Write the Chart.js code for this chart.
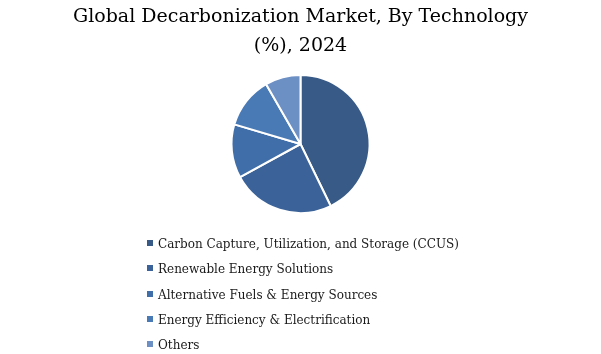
<!DOCTYPE html>
<html>
<head>
<meta charset="utf-8">
<script src="https://cdn.jsdelivr.net/npm/chart.js@4"></script>
<style>
  body { margin: 0; background: #fff; }
  #wrap { position: relative; width: 601px; height: 354px; }
  #legend { position: absolute; left: 147px; top: 234px; font-family: Georgia, 'DejaVu Serif', serif; font-size: 12px; color: #1a1a1a; }
  #legend div { height: 25.3px; line-height: 20px; white-space: nowrap; }
  #legend span { display: inline-block; width: 6px; height: 6px; margin-right: 5px; vertical-align: 2px; }
</style>
</head>
<body>
<div id="wrap">
  <canvas id="myChart" width="601" height="354"></canvas>
  <div id="legend"></div>
</div>
<script>
var categories = ['Carbon Capture, Utilization, and Storage (CCUS)', 'Renewable Energy Solutions', 'Alternative Fuels & Energy Sources', 'Energy Efficiency & Electrification', 'Others'];
var shares = [42.8, 24.2, 12.6, 12.1, 8.3];
var colors = ['#375a86', '#3b6399', '#3f6ea8', '#4a7ab6', '#6c8fc4'];

document.addEventListener('DOMContentLoaded', function () {
    var ctx = document.getElementById('myChart').getContext('2d');
    var myChart = new Chart(ctx, {
        type: 'pie',
        data: {
            labels: categories,
            datasets: [{
                data: shares,
                backgroundColor: colors,
                borderColor: '#ffffff',
                borderWidth: 2
            }]
        },
        options: {
            responsive: false,
            animation: false,
            layout: { padding: { bottom: 140 } },
            plugins: {
                legend: { display: false },
                tooltip: { enabled: false },
                title: {
                    display: true,
                    text: ['Global Decarbonization Market, By Technology', '(%), 2024'],
                    color: '#000',
                    font: { family: "Georgia, 'DejaVu Serif', serif", size: 19, weight: 'normal', lineHeight: 1.5 },
                    padding: { top: 3, bottom: 14 }
                }
            }
        }
    });

    var legend = document.getElementById('legend');
    categories.forEach(function (name, i) {
        var row = document.createElement('div');
        var box = document.createElement('span');
        box.style.background = colors[i];
        row.appendChild(box);
        row.appendChild(document.createTextNode(name));
        legend.appendChild(row);
    });
});
</script>
</body>
</html>
